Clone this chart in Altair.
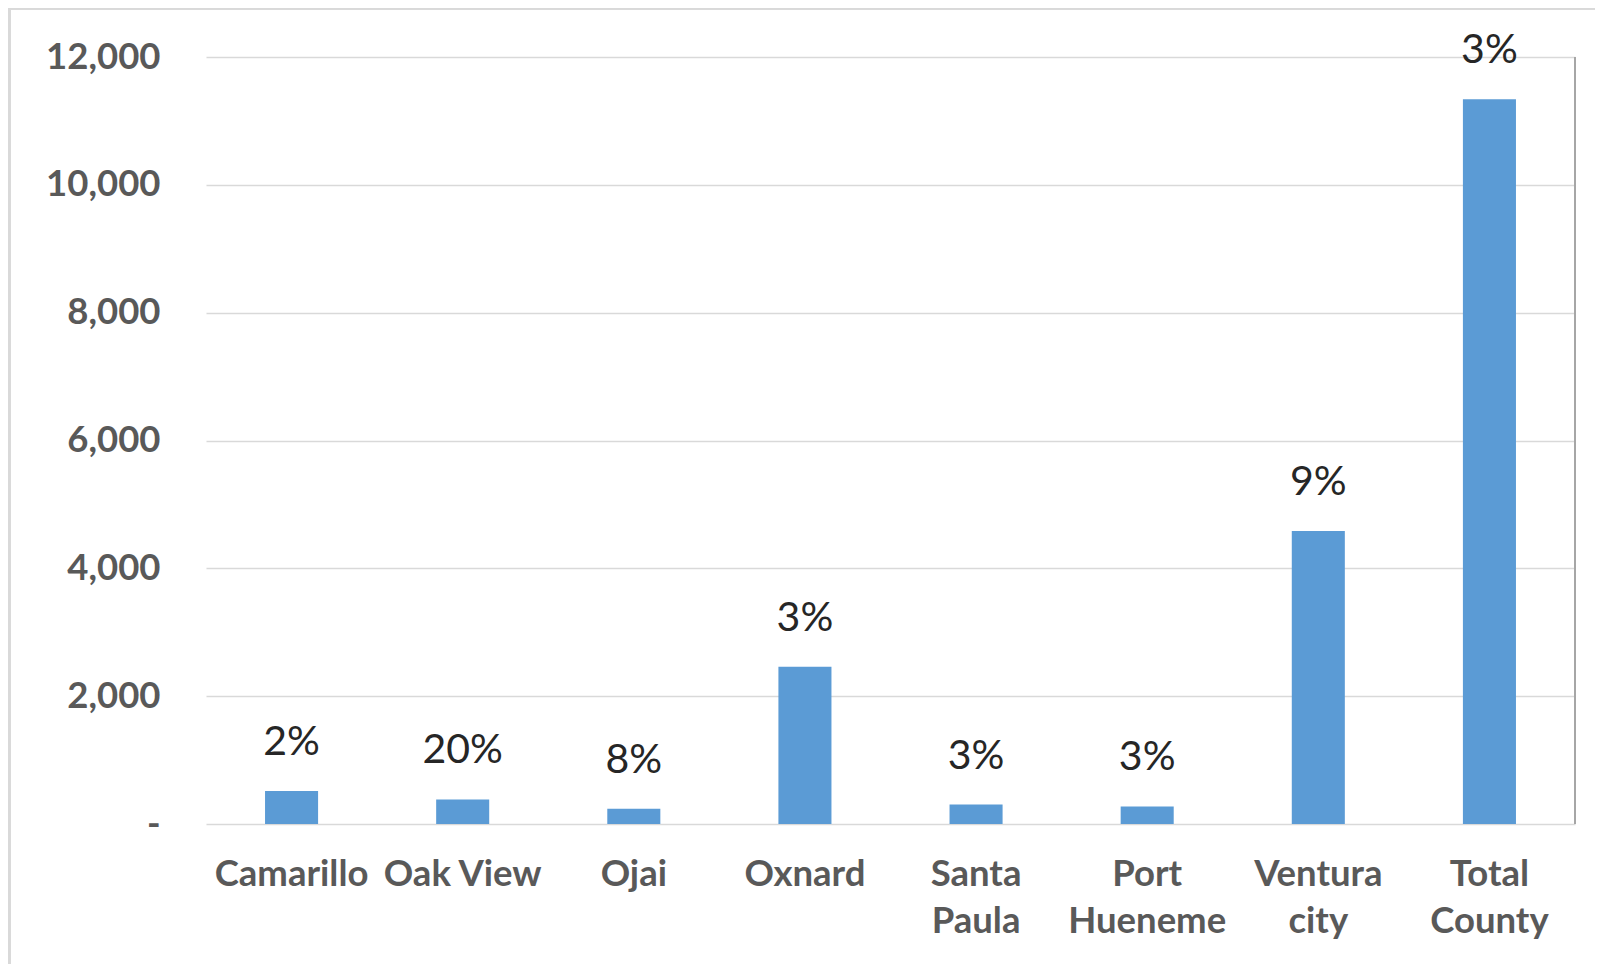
import altair as alt
import pandas as pd

categories = ["Camarillo", "Oak View", "Ojai", "Oxnard", "Santa Paula",
              "Port Hueneme", "Ventura city", "Total County"]
values = [515, 385, 240, 2460, 305, 275, 4585, 11340]
pct_labels = ["2%", "20%", "8%", "3%", "3%", "3%", "9%", "3%"]
y_ticks = [0, 2000, 4000, 6000, 8000, 10000, 12000]

df = pd.DataFrame({"cat": categories, "val": values, "pct": pct_labels})

W, H = 1369, 767
FONT = "Lato"

x_enc = alt.X("cat:N", sort=categories, title=None,
              scale=alt.Scale(paddingInner=0.69, paddingOuter=0.345),
              axis=alt.Axis(labelExpr="datum.label == 'Oak View' ? datum.label : split(datum.label, ' ')",
                            labelAngle=0, labelFont=FONT, labelFontSize=36.5, labelFontWeight="bold",
                            labelColor="#595959", labelPadding=32, labelLineHeight=47,
                            labelOverlap=False, labelLimit=0, ticks=False, domain=False,
                            grid=False))
y_enc = alt.Y("val:Q", title=None,
              scale=alt.Scale(domain=[0, 12000], nice=False),
              axis=alt.Axis(values=y_ticks,
                            labelExpr="datum.value == 0 ? '-\u00a0\u00a0\u00a0\u00a0' : format(datum.value, ',')",
                            labelFont=FONT, labelFontSize=36.5, labelFontWeight="bold",
                            labelColor="#595959", labelPadding=46, ticks=False, domain=False,
                            grid=True, gridColor="#d9d9d9", gridWidth=1.5))

base = alt.Chart(df)
bars = base.mark_bar(color="#5B9BD5").encode(x=x_enc, y=y_enc)
texts = base.mark_text(font=FONT, fontSize=41, color="#262626", dy=-48, baseline="middle").encode(
    x=alt.X("cat:N", sort=categories), y=alt.Y("val:Q"), text="pct:N")

right_line = alt.Chart(df).mark_rule(color="#a6a6a6", strokeWidth=1.5).encode(
    x=alt.value(W), y=alt.value(0), y2=alt.value(H))
top_border = alt.Chart(df).mark_rule(color="#d9d9d9", strokeWidth=3).encode(
    x=alt.value(-197), x2=alt.value(W + 40), y=alt.value(-49))
left_border = alt.Chart(df).mark_rule(color="#d9d9d9", strokeWidth=3).encode(
    x=alt.value(-197), y=alt.value(-49), y2=alt.value(H + 160))

chart = alt.layer(bars, texts, right_line, top_border, left_border).properties(
    width=W, height=H,
    autosize=alt.AutoSizeParams(type="none"),
    padding={"left": 198, "top": 49, "right": 20, "bottom": 140},
    background="white",
).configure_view(stroke=None)

chart.save("out.html", embed_options={"renderer": "svg", "actions": False})
